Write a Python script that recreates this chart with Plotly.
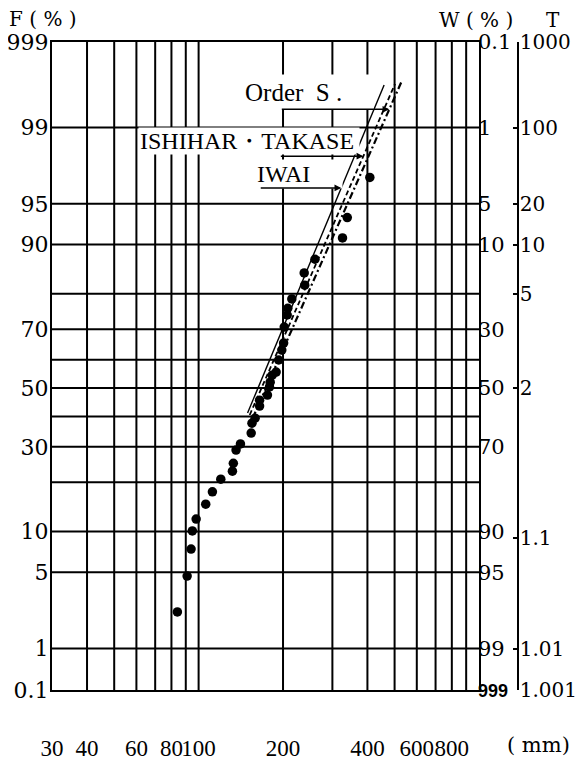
import math
from statistics import NormalDist
import plotly.graph_objects as go

# ---------------- data ----------------
rain_mm = [84, 91, 94, 95, 98, 106, 112, 120, 132, 133, 136, 141, 154, 155, 159,
           165, 165, 176, 179, 180, 183, 189, 193, 198, 201, 202, 207, 208, 215,
           239, 238, 260, 326, 339, 408]
freq_pct = [2.28, 4.66, 7.53, 10.1, 12.1, 15.0, 17.7, 20.8, 22.9, 25.1, 29.0, 30.9,
            34.4, 37.7, 39.4, 43.6, 45.7, 47.5, 50.4, 52.1, 54.6, 55.7, 59.9, 63.3,
            65.6, 70.7, 74.3, 76.2, 78.7, 82.1, 84.8, 87.5, 91.0, 93.6, 97.0]

iwai_mm = [149.5, 458.8]
iwai_pct = [41.2, 99.66]
ishihara_mm = [152.1, 502.0]
ishihara_pct = [40.5, 99.67]
order_mm = [155.9, 531.8]
order_pct = [39.4, 99.70]

x_grid_mm = [40, 50, 60, 70, 80, 90, 100, 200, 300, 400, 500, 600, 700, 800, 900]
x_tick_mm = [30, 40, 60, 80, 100, 200, 400, 600, 800]
x_tick_text = ["30", "40", "60", "80", "100", "200", "400", "600", "800"]

f_grid_pct = [1, 5, 10, 20, 30, 40, 50, 60, 70, 80, 90, 95, 99]
f_tick_pct = [0.1, 1, 5, 10, 30, 50, 70, 90, 95, 99, 99.9]
f_tick_text = ["0.1", "1", "5", "10", "30", "50", "70", "90", "95", "99", "999"]

w_tick_pct = [0.1, 1, 5, 10, 30, 50, 70, 90, 95, 99, 99.9]
w_tick_text = ["0.1", "1", "5", "10", "30", "50", "70", "90", "95", "99",
               "<b><span style='font-family:Liberation Sans;font-size:18px'>999</span></b>"]

t_years = [1000, 100, 20, 10, 5, 2, 1.1, 1.01, 1.001]
t_tick_text = ["1000", "100", "20", "10", "5", "2", "1.1", "1.01", "1.001"]

# ---------------- probability scale ----------------
ND = NormalDist()
Z_TOP = ND.inv_cdf(0.999)
Z_BOTTOM = -2.696   # paper is cut here; edge labelled 0.1


def zf(p):
    return max(ND.inv_cdf(p / 100.0), Z_BOTTOM)


X_MIN, X_MAX = 30, 1000
SERIF = "DejaVu Serif"
LBL = "Liberation Serif"

# page offset of the plot div (default body margin)
OFF = 8
FIG_W, FIG_H = 585 - 2 * OFF, 778 - 2 * OFF
M_L, M_R, M_T = 52 - OFF, 5, 42 - OFF
M_B = FIG_H - (690 - OFF)
PW = FIG_W - M_L - M_R          # paper width px (page 52..572)
PH = FIG_H - M_T - M_B          # paper height px (page 42..690)

fig = go.Figure()

# grid
gx, gy = [], []
for v in x_grid_mm:
    gx += [v, v, None]
    gy += [Z_BOTTOM, Z_TOP, None]
for p in f_grid_pct:
    gx += [X_MIN, X_MAX, None]
    gy += [zf(p), zf(p), None]
fig.add_trace(go.Scatter(x=gx, y=gy, mode="lines",
                         line=dict(color="black", width=2),
                         hoverinfo="skip", showlegend=False))

# fitted lines
fig.add_trace(go.Scatter(x=iwai_mm, y=[zf(p) for p in iwai_pct], mode="lines",
                         line=dict(color="black", width=1.4), showlegend=False))
fig.add_trace(go.Scatter(x=ishihara_mm, y=[zf(p) for p in ishihara_pct], mode="lines",
                         line=dict(color="black", width=1.8, dash="5px,3px"),
                         showlegend=False))
fig.add_trace(go.Scatter(x=order_mm, y=[zf(p) for p in order_pct], mode="lines",
                         line=dict(color="black", width=2.2, dash="7px,3px,2px,3px"),
                         showlegend=False))

# observations
fig.add_trace(go.Scatter(x=rain_mm, y=[zf(p) for p in freq_pct], mode="markers",
                         marker=dict(color="black", size=9.5), showlegend=False))

# invisible anchors so that the W and T scales are drawn
for ax_name in ["y2", "y3"]:
    fig.add_trace(go.Scatter(x=[X_MIN], y=[Z_BOTTOM], yaxis=ax_name, mode="markers",
                             marker=dict(opacity=0), hoverinfo="skip",
                             showlegend=False))


def point_on(xs, ps, p):
    z0, z1 = zf(ps[0]), zf(ps[1])
    l0, l1 = math.log10(xs[0]), math.log10(xs[1])
    z = zf(p)
    return l0 + (z - z0) / (z1 - z0) * (l1 - l0), z


def px(x):
    return (x - 52) / PW


def py(y):
    return (690 - y) / PH


ann = []
ann.append(dict(text="F ( % )", x=px(8), y=py(19), xref="paper", yref="paper",
                xanchor="left", yanchor="middle", showarrow=False, borderpad=0,
                font=dict(family=SERIF, size=20, color="black")))
ann.append(dict(text="W ( % )", x=px(438), y=py(20), xref="paper", yref="paper",
                xanchor="left", yanchor="middle", showarrow=False, borderpad=0,
                font=dict(family=SERIF, size=20, color="black")))
ann.append(dict(text="T", x=px(553), y=py(20), xref="paper", yref="paper",
                xanchor="center", yanchor="middle", showarrow=False, borderpad=0,
                font=dict(family=SERIF, size=20, color="black")))
ann.append(dict(text="( mm)", x=px(505), y=py(745), xref="paper", yref="paper",
                xanchor="left", yanchor="middle", showarrow=False,
                font=dict(family=SERIF, size=21, color="black")))

# legend labels with white boxes
ann.append(dict(text="Order  S .", x=px(308), y=py(92), xref="paper", yref="paper",
                xanchor="center", yanchor="middle", showarrow=False, width=127,
                height=32, align="left", bgcolor="white",
                font=dict(family=LBL, size=25, color="black")))
ann.append(dict(text="ISHIHAR・TAKASE", x=px(249), y=py(141), xref="paper", yref="paper",
                xanchor="center", yanchor="middle", showarrow=False, width=218,
                height=24, align="left", bgcolor="white",
                font=dict(family=LBL, size=24, color="black")))
ann.append(dict(text="IWAI", x=px(299), y=py(174), xref="paper", yref="paper",
                xanchor="center", yanchor="middle", showarrow=False, width=84,
                height=26, align="left", bgcolor="white",
                font=dict(family=LBL, size=24, color="black")))

# leader lines with arrows
for xs, ps, p, length in [(order_mm, order_pct, 99.36, 109),
                          (ishihara_mm, ishihara_pct, 98.08, 84),
                          (iwai_mm, iwai_pct, 96.3, 82)]:
    lx, z = point_on(xs, ps, p)
    ann.append(dict(text="", x=lx, y=z, xref="x", yref="y", axref="pixel",
                    ayref="pixel", ax=-length, ay=0, showarrow=True,
                    arrowhead=2, arrowsize=0.9, arrowwidth=1.5,
                    arrowcolor="black", standoff=0))

fig.update_layout(
    width=FIG_W, height=FIG_H,
    margin=dict(l=M_L, r=M_R, t=M_T, b=M_B, autoexpand=False),
    paper_bgcolor="white", plot_bgcolor="white",
    showlegend=False,
    annotations=ann,
    xaxis=dict(type="log", range=[math.log10(X_MIN), math.log10(X_MAX)],
               domain=[0, 427 / PW], showgrid=False, zeroline=False,
               showline=True, mirror=True, linecolor="black", linewidth=2,
               tickmode="array", tickvals=x_tick_mm, ticktext=x_tick_text,
               ticks="", tickangle=0, ticklabelstandoff=36,
               tickfont=dict(family=LBL, size=23, color="black")),
    yaxis=dict(range=[Z_BOTTOM, Z_TOP], showgrid=False, zeroline=False,
               showline=True, mirror=True, linecolor="black", linewidth=2,
               tickmode="array", tickvals=[zf(p) for p in f_tick_pct],
               ticktext=f_tick_text, ticks="", ticklabelstandoff=-3,
               tickfont=dict(family=SERIF, size=22, color="black")),
    yaxis2=dict(range=[Z_BOTTOM, Z_TOP], overlaying="y", side="right", anchor="x",
                showgrid=False, zeroline=False, showline=False,
                tickmode="array", tickvals=[zf(100 - w) for w in w_tick_pct],
                ticktext=w_tick_text, ticks="", ticklabelstandoff=-2,
                tickfont=dict(family=SERIF, size=21, color="black")),
    yaxis3=dict(range=[Z_BOTTOM, Z_TOP], overlaying="y", side="right",
                anchor="free", position=466 / PW,
                showgrid=False, zeroline=False, showline=True,
                linecolor="black", linewidth=1.5,
                tickmode="array", tickvals=[zf(100 * (1 - 1 / t)) for t in t_years],
                ticktext=t_tick_text, ticks="inside", ticklen=4, tickwidth=1.5,
                tickcolor="black", ticklabelstandoff=-3,
                tickfont=dict(family=SERIF, size=20, color="black")),
)

fig.write_html("out.html")
